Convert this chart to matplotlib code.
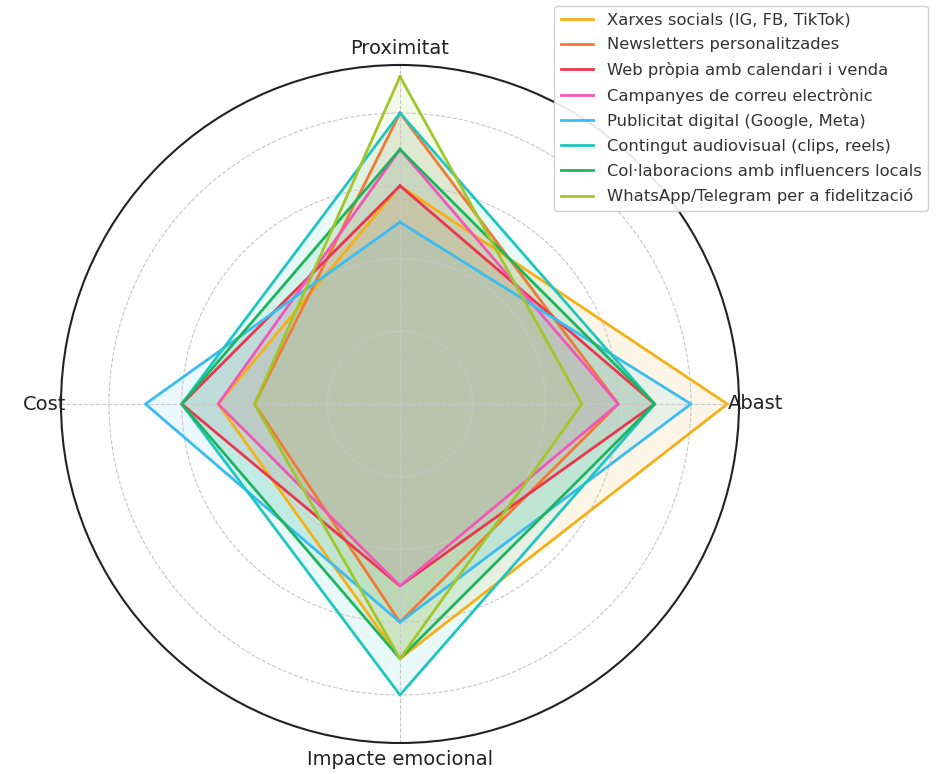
import numpy as np
import matplotlib
matplotlib.use("Agg")
import matplotlib.pyplot as plt

categories = ["Proximitat", "Abast", "Impacte emocional", "Cost"]
series_names = [
    "Xarxes socials (IG, FB, TikTok)",
    "Newsletters personalitzades",
    "Web pròpia amb calendari i venda",
    "Campanyes de correu electrònic",
    "Publicitat digital (Google, Meta)",
    "Contingut audiovisual (clips, reels)",
    "Col·laboracions amb influencers locals",
    "WhatsApp/Telegram per a fidelització",
]
xarxes = [3.0, 4.5, 3.5, 2.5]
newsletters = [4.0, 3.0, 3.0, 2.0]
web = [3.0, 3.5, 2.5, 3.0]
campanyes = [3.5, 3.0, 2.5, 2.5]
publicitat = [2.5, 4.0, 3.0, 3.5]
contingut = [4.0, 3.5, 4.0, 3.0]
collab = [3.5, 3.5, 3.5, 3.0]
whatsapp = [4.5, 2.5, 3.5, 2.0]
series_values = [xarxes, newsletters, web, campanyes, publicitat, contingut, collab, whatsapp]
colors = ["#F5B018", "#F07A35", "#E8384F", "#F057B8", "#3BBCF0", "#1FC6C0", "#1DB560", "#A2C62A"]

fig = plt.figure(figsize=(9.45, 7.74), dpi=100)
ax = fig.add_axes([61 / 945, 31 / 774, 678 / 945, 678 / 774], projection="polar")
ax.set_theta_offset(np.pi / 2)
ax.set_theta_direction(-1)

n = len(categories)
angles = np.linspace(0, 2 * np.pi, n, endpoint=False).tolist()
angles_c = angles + angles[:1]

for name, vals, col in zip(series_names, series_values, colors):
    v = list(vals) + [vals[0]]
    ax.plot(angles_c, v, color=col, linewidth=2, label=name)
    ax.fill(angles_c, v, color=col, alpha=0.1)

rmax = 4.66
ax.set_xticks(angles)
ax.set_xticklabels([])
for ang, cat in zip(angles, categories):
    ax.text(ang, rmax * 1.048, cat, fontsize=14, color="#222222",
            ha="center", va="center", clip_on=False)
ax.set_ylim(0, rmax)
ax.set_yticks([1, 2, 3, 4])
ax.set_yticklabels([])
ax.grid(True, linestyle="--", color="#c8c8c8", linewidth=0.8)
ax.spines["polar"].set_color("#222222")
ax.spines["polar"].set_linewidth(1.5)

leg = fig.legend(loc="upper right", bbox_to_anchor=(928 / 945, 1 - 6 / 774), fontsize=11.8,
                 borderaxespad=0, labelspacing=0.6,
                 framealpha=0.9, edgecolor="#cccccc")
for t in leg.get_texts():
    t.set_color("#333333")

fig.savefig("out.png", dpi=100)
